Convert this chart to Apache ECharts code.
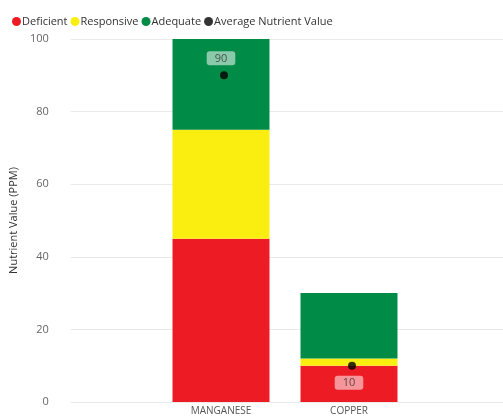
<!DOCTYPE html>
<html>
<head>
<meta charset="utf-8">
<script src="https://cdn.jsdelivr.net/npm/echarts@6/dist/echarts.min.js"></script>
<style>
  html, body { margin: 0; padding: 0; background: #fff; }
  #main { width: 503px; height: 418px; }
</style>
</head>
<body>
<div id="main"></div>
<script>
const categories = ['MANGANESE', 'COPPER'];
const deficient = [45, 10];
const responsive = [30, 2];
const adequate = [25, 18];
const average = [90, 10];
const yTicks = [0, 20, 40, 60, 80, 100];

const font = '"Segoe UI", "Open Sans", "Noto Sans", sans-serif';

const chart = echarts.init(document.getElementById('main'));

// grid 0 = full width background (y labels + gridlines), grid 1 = the bars
const option = {
  animation: false,
  textStyle: { fontFamily: font },
  legend: {
    data: ['Deficient', 'Responsive', 'Adequate', 'Average Nutrient Value'],
    left: 7,
    top: 11,
    icon: 'circle',
    itemWidth: 9,
    itemHeight: 9,
    itemGap: 3,
    textStyle: { color: '#333', fontSize: 11, padding: [0, 0, 0, -4] }
  },
  grid: [
    { left: 58, right: 0, top: 39, bottom: 16 },
    { left: 157, right: 90, top: 39, bottom: 16 }
  ],
  xAxis: [
    { type: 'value', gridIndex: 0, show: false, min: 0, max: 1 },
    {
      type: 'category',
      gridIndex: 1,
      data: categories,
      axisLine: { show: false },
      axisTick: { show: false },
      axisLabel: { color: '#555', fontSize: 10, margin: 4 }
    }
  ],
  yAxis: [
    {
      type: 'value',
      gridIndex: 0,
      min: yTicks[0],
      max: yTicks[yTicks.length - 1],
      interval: 20,
      name: 'Nutrient Value (PPM)',
      nameLocation: 'middle',
      nameGap: 39,
      nameTextStyle: { color: '#333', fontSize: 11 },
      axisLine: { show: false },
      axisTick: { show: false },
      axisLabel: { color: '#666', fontSize: 11, margin: 22 },
      splitLine: { lineStyle: { color: '#eaeaea' } }
    },
    {
      type: 'value',
      gridIndex: 1,
      min: yTicks[0],
      max: yTicks[yTicks.length - 1],
      interval: 20,
      show: false,
      splitLine: { show: false }
    }
  ],
  series: [
    {
      name: 'Deficient',
      type: 'bar',
      stack: 'total',
      xAxisIndex: 1,
      yAxisIndex: 1,
      barWidth: 97,
      itemStyle: { color: '#ED1C24' },
      data: deficient
    },
    {
      name: 'Responsive',
      type: 'bar',
      stack: 'total',
      xAxisIndex: 1,
      yAxisIndex: 1,
      barWidth: 97,
      itemStyle: { color: '#FAEE10' },
      data: responsive
    },
    {
      name: 'Adequate',
      type: 'bar',
      stack: 'total',
      xAxisIndex: 1,
      yAxisIndex: 1,
      barWidth: 97,
      itemStyle: { color: '#008C46' },
      data: adequate
    },
    {
      name: 'Average Nutrient Value',
      type: 'scatter',
      xAxisIndex: 1,
      yAxisIndex: 1,
      symbolSize: 8,
      symbolOffset: [3, 0],
      itemStyle: { color: '#000' },
      z: 5,
      label: {
        show: true,
        backgroundColor: 'rgba(255,255,255,0.68)',
        borderRadius: 3,
        padding: [2, 8, 1, 8],
        color: '#333',
        fontSize: 11,
        distance: 6
      },
      data: average.map(function (v, i) {
        return { value: v, label: { position: i === 0 ? 'top' : 'bottom', offset: [-3, 0] } };
      })
    }
  ]
};

chart.setOption(option);
</script>
</body>
</html>
